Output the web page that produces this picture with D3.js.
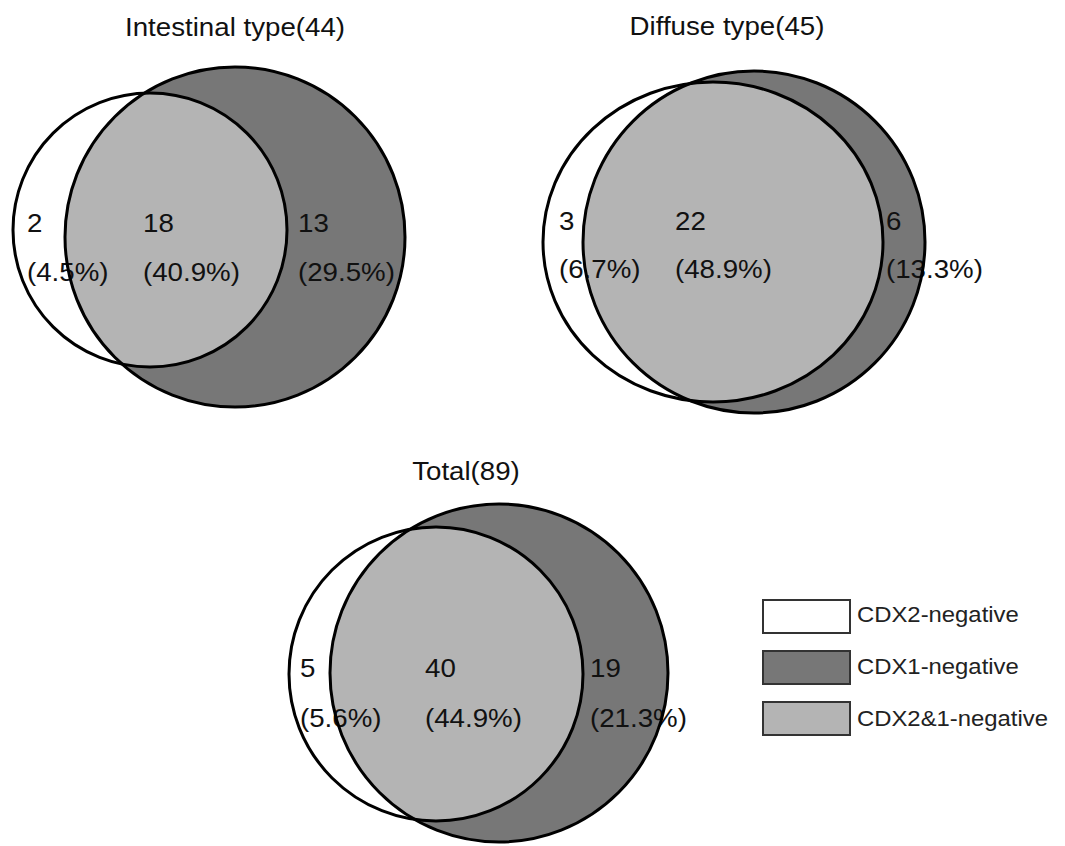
<!DOCTYPE html>
<html>
<head>
<meta charset="utf-8">
<script src="https://cdn.jsdelivr.net/npm/d3@7"></script>
<style>
	html, body { margin: 0; padding: 0; background: #fff; }
	svg { display: block; }
	text { font-family: "Liberation Sans", Arial, sans-serif; }
</style>
</head>
<body>
<svg id="chart"></svg>
<script>
// Venn panels for CDX2 / CDX1 negative cases

const panelTitles = ["Intestinal type(44)", "Diffuse type(45)", "Total(89)"];
const cdx2Only = [2, 3, 5];
const bothNeg = [18, 22, 40];
const cdx1Only = [13, 6, 19];
const pct2Only = ["4.5%", "6.7%", "5.6%"];
const pctBoth = ["40.9%", "48.9%", "44.9%"];
const pct1Only = ["29.5%", "13.3%", "21.3%"];
const legendLabels = ["CDX2-negative", "CDX1-negative", "CDX2&1-negative"];

const width = 1065;
const height = 846;

// drawing layout of each panel (hand drawn, not proportional)
const layout = [
	{ titleX: 235, titleY: 36,
	  white: {cx: 150, cy: 230, rx: 137, ry: 137},
	  dark: {cx: 235, cy: 237, rx: 170, ry: 170},
	  labelX: [27, 143, 298], numY: 232, pctY: 281 },
	{ titleX: 727, titleY: 35,
	  white: {cx: 713, cy: 242, rx: 170, ry: 160},
	  dark: {cx: 754, cy: 242, rx: 171, ry: 171},
	  labelX: [559, 675, 886], numY: 230, pctY: 278 },
	{ titleX: 466, titleY: 480,
	  white: {cx: 436, cy: 674, rx: 147, ry: 147},
	  dark: {cx: 499, cy: 673, rx: 169, ry: 169},
	  labelX: [300, 425, 590], numY: 677, pctY: 727 }
];

const color = d3.scaleOrdinal()
	.domain(legendLabels)
	.range(["#ffffff", "#777777", "#b4b4b4"]);

const stretch = 1.065; // text in the source is a little wide

const svg = d3.select("#chart")
	.attr("width", width)
	.attr("height", height);

const defs = svg.append("defs");

function ellipse(sel, e) {
	return sel.append("ellipse")
		.attr("cx", e.cx).attr("cy", e.cy)
		.attr("rx", e.rx).attr("ry", e.ry);
}

function addText(sel, str, x, y, size, anchor, sx) {
	return sel.append("text")
		.attr("transform", `translate(${x},${y}) scale(${sx || stretch},1)`)
		.attr("font-size", size)
		.attr("text-anchor", anchor || "start")
		.attr("fill", "#111")
		.text(str);
}

layout.forEach((p, i) => {
	const g = svg.append("g");

	defs.append("clipPath").attr("id", "clipDark" + i)
		.call(s => ellipse(s, p.dark));

	// CDX1-negative
	ellipse(g, p.dark).attr("fill", color(legendLabels[1]));
	// CDX2-negative
	ellipse(g, p.white).attr("fill", color(legendLabels[0]));
	// overlap
	ellipse(g, p.white)
		.attr("clip-path", `url(#clipDark${i})`)
		.attr("fill", color(legendLabels[2]));

	addText(g, panelTitles[i], p.titleX, p.titleY, 26, "middle");

	const nums = [cdx2Only[i], bothNeg[i], cdx1Only[i]];
	const pcts = [pct2Only[i], pctBoth[i], pct1Only[i]];
	nums.forEach((n, j) => {
		addText(g, n, p.labelX[j], p.numY, 26);
		addText(g, `(${pcts[j]})`, p.labelX[j], p.pctY, 26);
	});

	// outlines on top
	[p.dark, p.white].forEach(e => {
		ellipse(g, e)
			.attr("fill", "none")
			.attr("stroke", "#000")
			.attr("stroke-width", 3);
	});
});

// legend
const legendY = d3.scalePoint()
	.domain(legendLabels)
	.range([600, 702]);

const legend = svg.append("g");

legend.selectAll("rect")
	.data(legendLabels)
	.join("rect")
	.attr("x", 763)
	.attr("y", d => legendY(d))
	.attr("width", 87)
	.attr("height", 33)
	.attr("fill", d => color(d))
	.attr("stroke", "#333")
	.attr("stroke-width", 2);

legendLabels.forEach((d, i) => {
	addText(legend, d, 857, legendY(d) + 22 + i, 22, "start", 1.085).attr("fill", "#222");
});
</script>
</body>
</html>
